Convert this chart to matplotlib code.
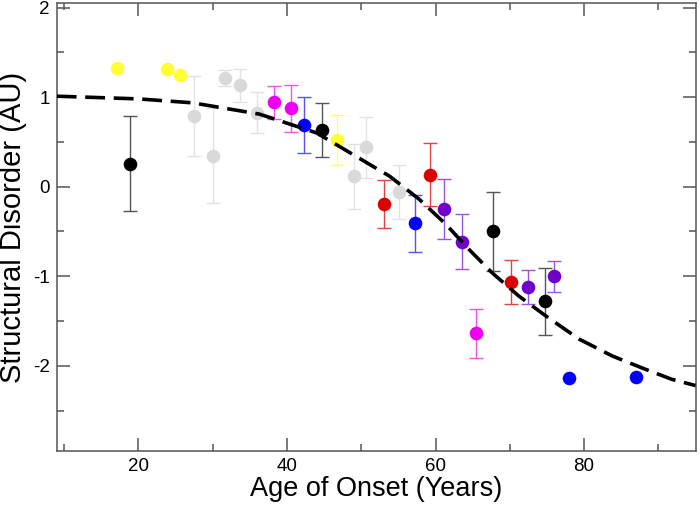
import numpy as np
import matplotlib
matplotlib.use("Agg")
import matplotlib.pyplot as plt
from matplotlib.ticker import MultipleLocator

plt.rcParams['font.family'] = ['Liberation Sans', 'DejaVu Sans']
plt.rcParams['axes.unicode_minus'] = False

# ---- data ----
yellow_x = [17.1, 23.8, 25.6, 46.7]
yellow_y = [1.32, 1.31, 1.25, 0.524]
yellow_e = [0.0, 0.0, 0.0, 0.28]

gray_x = [27.5, 30.0, 31.6, 33.7, 36.0, 49.0, 50.6, 55.1]
gray_y = [0.79, 0.345, 1.215, 1.13, 0.825, 0.115, 0.438, -0.056]
gray_e = [0.45, 0.53, 0.09, 0.18, 0.23, 0.36, 0.34, 0.30]

magenta_x = [38.3, 40.5, 65.5]
magenta_y = [0.94, 0.873, -1.636]
magenta_e = [0.18, 0.26, 0.275]

blue_x = [42.3, 57.2, 78.0, 87.0]
blue_y = [0.687, -0.41, -2.137, -2.12]
blue_e = [0.31, 0.32, 0.0, 0.0]

black_x = [18.9, 44.7, 67.8, 74.7]
black_y = [0.256, 0.63, -0.498, -1.28]
black_e = [0.53, 0.30, 0.44, 0.37]

red_x = [53.0, 59.2, 70.15]
red_y = [-0.19, 0.134, -1.063]
red_e = [0.27, 0.35, 0.25]

purple_x = [61.2, 63.6, 72.5, 76.0]
purple_y = [-0.25, -0.613, -1.12, -1.0]
purple_e = [0.335, 0.31, 0.19, 0.175]

# fitted trend curve
curve_x = [9, 20, 27.3, 36.3, 44, 51.1, 53.8, 57.8, 61.4, 64.5, 67.6, 71.2,
           74.8, 79.3, 83.8, 88, 91.8, 95]
curve_y = [1.01, 0.98, 0.936, 0.81, 0.60, 0.25, 0.118, -0.14, -0.42, -0.70,
           -0.96, -1.22, -1.44, -1.70, -1.89, -2.03, -2.15, -2.22]

groups = [
    (gray_x, gray_y, gray_e, '#d9d9d9', '#e2e2e2'),
    (yellow_x, yellow_y, yellow_e, '#ffff33', '#ffff66'),
    (magenta_x, magenta_y, magenta_e, '#ee00ee', '#ee55ee'),
    (blue_x, blue_y, blue_e, '#0000ff', '#5555ee'),
    (black_x, black_y, black_e, '#000000', '#555555'),
    (red_x, red_y, red_e, '#dd0000', '#dd4444'),
    (purple_x, purple_y, purple_e, '#7000cc', '#9a55dd'),
]

fig = plt.figure(figsize=(7.0, 5.05), dpi=100)
ax = fig.add_axes([0.081, 0.107, 0.9126, 0.887])

for gx, gy, ge, col, ecol in groups:
    gx = np.asarray(gx); gy = np.asarray(gy); ge = np.asarray(ge)
    m = ge > 0
    if m.any():
        ax.errorbar(gx[m], gy[m], yerr=ge[m], fmt='none', ecolor=ecol,
                    elinewidth=1.0, capsize=4.8, capthick=1.0, zorder=2)
    ax.plot(gx, gy, 'o', color=col, markersize=9.8, markeredgewidth=0,
            zorder=3)

ax.plot(curve_x, curve_y, color='black', linewidth=2.6, dashes=(5.5, 2.4),
        dash_capstyle='butt', zorder=4)

ax.set_xlim(9, 95)
ax.set_ylim(-2.95, 2.05)

ax.xaxis.set_major_locator(MultipleLocator(20))
ax.xaxis.set_minor_locator(MultipleLocator(10))
ax.yaxis.set_major_locator(MultipleLocator(1))
ax.yaxis.set_minor_locator(MultipleLocator(0.5))

spine_col = '#555555'
for s in ax.spines.values():
    s.set_color(spine_col)
    s.set_linewidth(1.1)

ax.tick_params(which='both', direction='in', top=True, right=True,
               color=spine_col, width=1.1)
ax.tick_params(which='major', length=9.5, labelsize=13.5, pad=5)
ax.tick_params(which='minor', length=4.7)

ax.set_xlabel('Age of Onset (Years)', fontsize=19.5, labelpad=1)
ax.set_ylabel('Structural Disorder (AU)', fontsize=21, labelpad=4)

fig.savefig('out.png', dpi=100)
